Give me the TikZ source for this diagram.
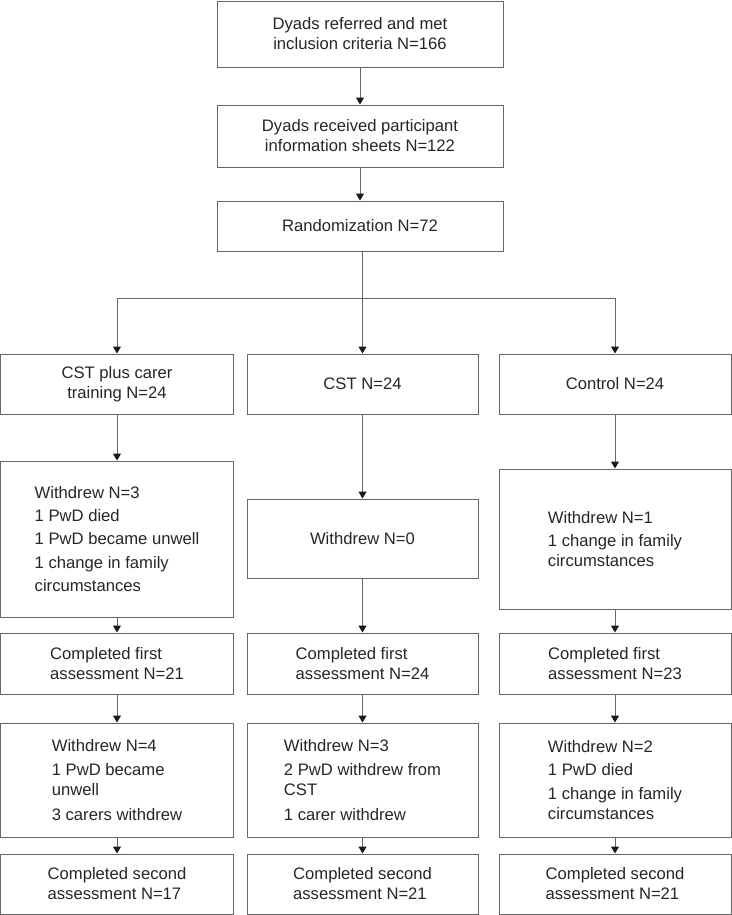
\documentclass[tikz,border=0pt]{standalone}
\usepackage{fontspec}
\setmainfont{Liberation Sans}
\usetikzlibrary{arrows.meta}
\begin{document}
\begin{tikzpicture}[x=1bp,y=-1bp,
  box/.style={draw=black!60, line width=1bp, inner sep=0pt, align=center, text=black!85,
    font=\fontsize{16.7}{20}\selectfont},
  lbox/.style={box, align=left},
  arr/.style={draw=black!60, line width=1bp, -{Triangle[length=7bp,width=8bp,color=black!90]}},
]
\useasboundingbox (0,0) rectangle (732,915);
% top column
\node[box, minimum width=286bp, minimum height=66bp] (a) at (360,34) {Dyads referred and met\\inclusion criteria N=166};
\node[box, minimum width=286bp, minimum height=62bp] (b) at (360,136) {Dyads received participant\\information sheets N=122};
\node[box, minimum width=286bp, minimum height=50bp] (c) at (360,226) {Randomization N=72};
% arms
\node[box, minimum width=232bp, minimum height=60bp] (l1) at (117,384) {CST plus carer\\training N=24};
\node[box, minimum width=231bp, minimum height=60bp] (m1) at (362.5,384) {CST N=24};
\node[box, minimum width=232bp, minimum height=60bp] (r1) at (615,384) {Control N=24};
% first withdrawals
\node[lbox, minimum width=232bp, minimum height=156bp] (l2) at (117,539) {Withdrew N=3\\[3.5bp]1 PwD died\\[3.5bp]1 PwD became unwell\\[3.5bp]1 change in family\\[3.5bp]circumstances};
\node[lbox, minimum width=231bp, minimum height=79bp] (m2) at (362.5,538.5) {Withdrew N=0};
\node[lbox, minimum width=232bp, minimum height=140bp] (r2) at (615,539) {Withdrew N=1\\[3.5bp]1 change in family\\circumstances};
% completed first
\node[lbox, minimum width=232bp, minimum height=61bp] (l3) at (117,663.5) {Completed first\\assessment N=21};
\node[lbox, minimum width=231bp, minimum height=61bp] (m3) at (362.5,663.5) {Completed first\\assessment N=24};
\node[lbox, minimum width=232bp, minimum height=61bp] (r3) at (615,663.5) {Completed first\\assessment N=23};
% second withdrawals
\node[lbox, minimum width=232bp, minimum height=114bp] (l4) at (117,780) {Withdrew N=4\\[5bp]1 PwD became\\unwell\\[5bp]3 carers withdrew};
\node[lbox, minimum width=231bp, minimum height=114bp] (m4) at (362.5,780) {Withdrew N=3\\[5bp]2 PwD withdrew from\\CST\\[5bp]1 carer withdrew};
\node[lbox, minimum width=232bp, minimum height=114bp] (r4) at (615,780) {Withdrew N=2\\[3.5bp]1 PwD died\\[3.5bp]1 change in family\\circumstances};
% completed second
\node[lbox, minimum width=232bp, minimum height=60bp] (l5) at (117,884) {Completed second\\assessment N=17};
\node[lbox, minimum width=231bp, minimum height=60bp] (m5) at (362.5,884) {Completed second\\assessment N=21};
\node[lbox, minimum width=232bp, minimum height=60bp] (r5) at (615,884) {Completed second\\assessment N=21};
% connectors
\draw[arr] (a) -- (b);
\draw[arr] (b) -- (c);
\coordinate (br) at (362.5,298);
\draw[arr] (c.south -| m1.north) -- (m1.north);
\draw[arr] (br) -| (l1.north);
\draw[arr] (br) -| (r1.north);
\foreach \col in {l,m,r}{
  \draw[arr] (\col1) -- (\col2);
  \draw[arr] (\col2) -- (\col3);
  \draw[arr] (\col3) -- (\col4);
  \draw[arr] (\col4) -- (\col5);
}
\end{tikzpicture}
\end{document}
